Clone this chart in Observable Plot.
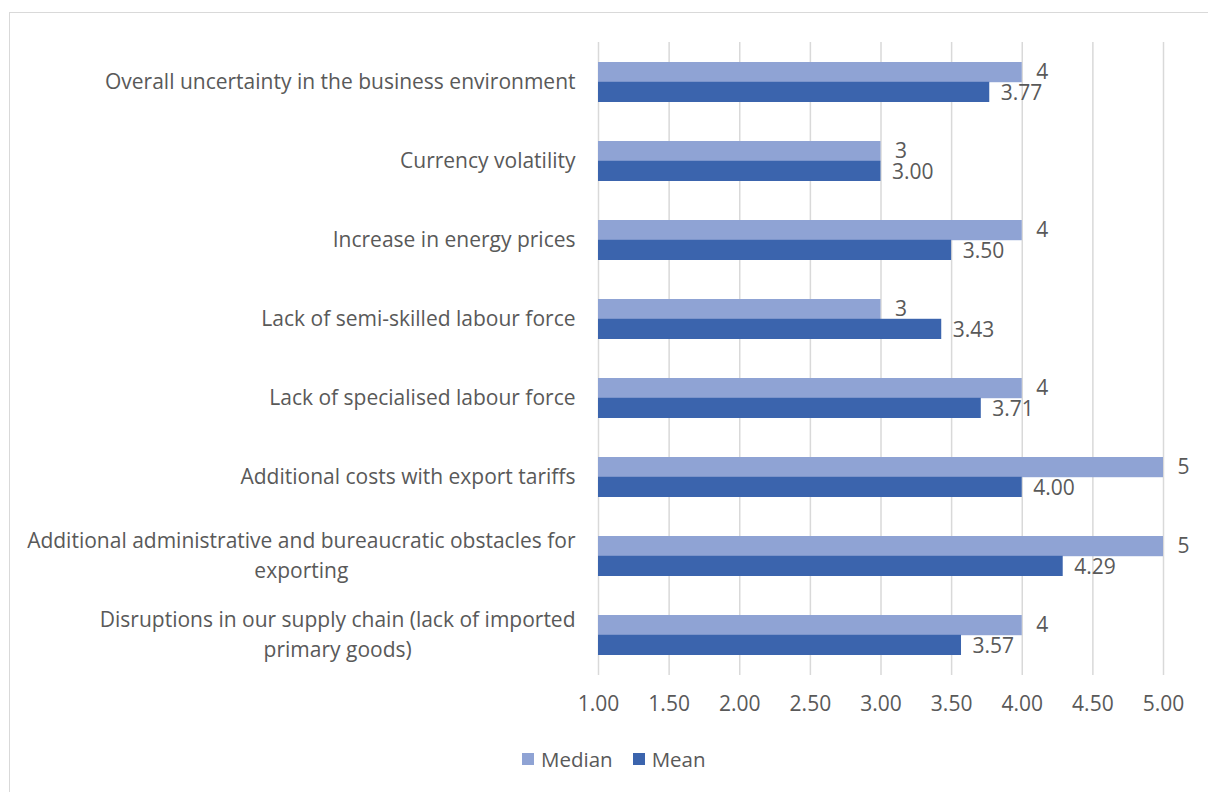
<!DOCTYPE html>
<html>
<head>
<meta charset="utf-8">
<script src="https://cdn.jsdelivr.net/npm/d3@7"></script>
<script src="https://cdn.jsdelivr.net/npm/@observablehq/plot@0.6"></script>
<style>
  html, body { margin: 0; padding: 0; background: #fff; overflow: hidden; width: 1208px; height: 792px; }
  #frame { position: absolute; left: 9px; top: 12px; width: 1300px; height: 900px; border: 1px solid #d9d9d9; box-sizing: border-box; }
  #chart { position: absolute; left: 0; top: 0; }
  #legend { position: absolute; top: 745px; left: 522px; display: flex; align-items: center; font-family: "Open Sans", sans-serif; font-size: 20.5px; color: #595959; }
  #legend .sw { width: 12px; height: 12px; display: inline-block; margin-right: 7px; }
  #legend .item { display: flex; align-items: center; margin-right: 20px; }
</style>
</head>
<body>
<div id="frame"></div>
<div id="chart"></div>
<div id="legend"></div>
<script>
const categories = [
  "Overall uncertainty in the business environment",
  "Currency volatility",
  "Increase in energy prices",
  "Lack of semi-skilled labour force",
  "Lack of specialised labour force",
  "Additional costs with export tariffs",
  "Additional administrative and bureaucratic obstacles for exporting",
  "Disruptions in our supply chain (lack of imported primary goods)"
];
const categoryLabels = [
  "Overall uncertainty in the business environment",
  "Currency volatility",
  "Increase in energy prices",
  "Lack of semi-skilled labour force",
  "Lack of specialised labour force",
  "Additional costs with export tariffs",
  "Additional administrative and bureaucratic obstacles for\nexporting",
  "Disruptions in our supply chain (lack of imported\nprimary goods)"
];
const medianValues = [4, 3, 4, 3, 4, 5, 5, 4];
const meanValues = [3.77, 3.00, 3.50, 3.43, 3.71, 4.00, 4.29, 3.57];
const xTicks = [1, 1.5, 2, 2.5, 3, 3.5, 4, 4.5, 5];
const seriesNames = ["Median", "Mean"];
const seriesColors = ["#8fa3d4", "#3b64ad"];

const data = categories.map((c, i) => ({
  category: c, label: categoryLabels[i], median: medianValues[i], mean: meanValues[i]
}));

const FONT = "'Open Sans', sans-serif";
const FSIZE = 21;
const canvas = document.createElement("canvas");
const ctx = canvas.getContext("2d");
ctx.font = FSIZE + "px 'Open Sans'";
const measure = s => Math.max(...s.split("\n").map(l => ctx.measureText(l).width));

const labelMarks = data.map(d => {
  const multi = d.label.includes("\n");
  return Plot.text([d], {
    y: "category", frameAnchor: "left", text: "label",
    textAnchor: multi ? "middle" : "end",
    dx: multi ? -23 - measure(d.label) / 2 : -23,
    dy: -3,
    lineHeight: 1.4
  });
});

const plot = Plot.plot({
  width: 1208,
  height: 720,
  marginTop: 42,
  marginLeft: 598,
  marginRight: 45,
  marginBottom: 45,
  style: { fontFamily: FONT, fontSize: FSIZE + "px", color: "#595959", background: "transparent", overflow: "visible" },
  x: { domain: [1, 5], ticks: xTicks, tickFormat: d3.format(".2f"), tickSize: 0, tickPadding: 21, label: null },
  y: { domain: categories, type: "band", paddingInner: 0.5, paddingOuter: 0.25, axis: null },
  marks: [
    Plot.ruleX(xTicks, { stroke: "#d9d9d9", strokeWidth: 1.5 }),
    Plot.barX(data, { x1: () => 1, x2: "median", y: "category", insetBottom: 19.78, fill: seriesColors[0] }),
    Plot.barX(data, { x1: () => 1, x2: "mean", y: "category", insetTop: 19.78, fill: seriesColors[1] }),
    Plot.text(data, { x: "median", y: "category", text: d => d3.format("d")(d.median), textAnchor: "start", dx: 14, dy: -10 }),
    Plot.text(data, { x: "mean", y: "category", text: d => d3.format(".2f")(d.mean), textAnchor: "start", dx: 11, dy: 11 }),
    ...labelMarks
  ]
});
document.getElementById("chart").appendChild(plot);

const legend = document.getElementById("legend");
seriesNames.forEach((n, i) => {
  const item = document.createElement("span");
  item.className = "item";
  const sw = document.createElement("span");
  sw.className = "sw";
  sw.style.background = seriesColors[i];
  item.appendChild(sw);
  item.appendChild(document.createTextNode(n));
  legend.appendChild(item);
});
</script>
</body>
</html>
